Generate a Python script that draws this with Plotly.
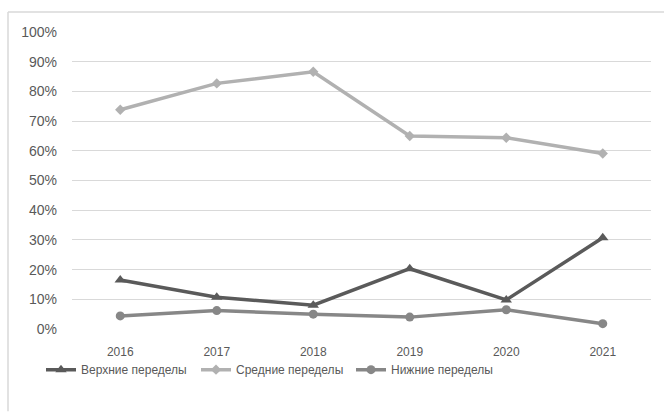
import plotly.graph_objects as go

years = ["2016", "2017", "2018", "2019", "2020", "2021"]
upper = [16.5, 10.7, 8.0, 20.3, 9.8, 30.7]
middle = [73.8, 82.7, 86.6, 65.0, 64.4, 59.1]
lower = [4.4, 6.2, 5.0, 4.0, 6.5, 1.8]
series_names = ["Верхние переделы", "Средние переделы", "Нижние переделы"]
y_ticks = [0, 10, 20, 30, 40, 50, 60, 70, 80, 90, 100]
y_labels = [f"{v}%" for v in y_ticks]

fig = go.Figure()
fig.add_trace(go.Scatter(x=years, y=upper, name=series_names[0], mode="lines+markers",
                         line=dict(color="#5a5a5a", width=3.5),
                         marker=dict(symbol="triangle-up", size=10, color="#5a5a5a")))
fig.add_trace(go.Scatter(x=years, y=middle, name=series_names[1], mode="lines+markers",
                         line=dict(color="#b1b1b1", width=3.5),
                         marker=dict(symbol="diamond", size=8, color="#b1b1b1")))
fig.add_trace(go.Scatter(x=years, y=lower, name=series_names[2], mode="lines+markers",
                         line=dict(color="#878787", width=3.5),
                         marker=dict(symbol="circle", size=9, color="#878787")))

font = dict(family="Liberation Sans, Arial, sans-serif", size=12, color="#595959")
yfont = dict(family="Liberation Sans, Arial, sans-serif", size=14, color="#595959")
fig.update_layout(
    width=664, height=412,
    margin=dict(l=72, r=13, t=32, b=82.5),
    paper_bgcolor="white", plot_bgcolor="white",
    font=font,
    showlegend=True,
    legend=dict(orientation="h", x=(41 - 72) / 579, xanchor="left", y=-0.088, yanchor="top",
                font=font, itemwidth=30, tracegroupgap=0, bgcolor="rgba(0,0,0,0)",
                entrywidth=110, entrywidthmode="pixels"),
    xaxis=dict(type="category", range=[-0.5, 5.5], showgrid=False, showline=False,
               ticks="", tickfont=font, zeroline=False, ticklabelstandoff=14),
    yaxis=dict(range=[0, 100], tickvals=y_ticks, ticktext=y_labels, showgrid=True,
               gridcolor="#d9d9d9", gridwidth=1.2, zeroline=False, showline=False,
               ticks="", tickfont=yfont, ticklabelstandoff=14),
)
# outer chart frame (left and top edges visible)
fig.add_shape(type="line", xref="paper", yref="paper",
              x0=(8 - 72) / 579, x1=(8 - 72) / 579, y0=(329.5 - 412) / 297.5, y1=(329.5 - 12) / 297.5,
              line=dict(color="#d9d9d9", width=1.5))
fig.add_shape(type="line", xref="paper", yref="paper",
              x0=(8 - 72) / 579, x1=(664 - 72) / 579, y0=(329.5 - 12) / 297.5, y1=(329.5 - 12) / 297.5,
              line=dict(color="#d9d9d9", width=1.5))

fig.write_html("out.html", config={"displayModeBar": False},
               post_script="document.body.style.margin='0';document.body.style.overflow='hidden';")
